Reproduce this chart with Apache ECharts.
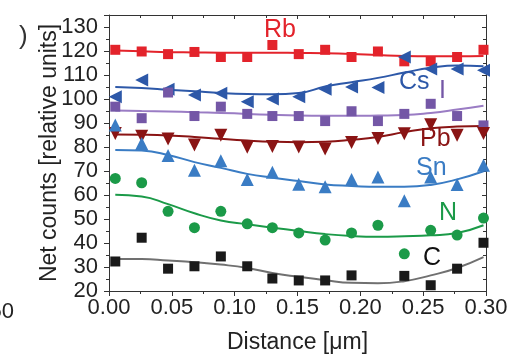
<!DOCTYPE html>
<html><head><meta charset="utf-8">
<script src="https://cdn.jsdelivr.net/npm/echarts@6/dist/echarts.min.js"></script>
<style>html,body{margin:0;padding:0;background:#fff}#c{width:511px;height:359px}</style>
</head><body><div id="c"></div>
<script>
// Distance positions [µm]
const distance = [0.005, 0.026, 0.047, 0.068, 0.089, 0.110, 0.130, 0.151, 0.172, 0.193, 0.214, 0.235, 0.256, 0.277, 0.298];

// Measured points
const rbPts = [120.5, 119.8, 118.7, 119.6, 117.5, 117.5, 122.5, 118.7, 120.5, 117.5, 119.8, 115.7, 115.7, 117.5, 120.5];
const csPts = [100.9, 107.9, 104.1, 101.7, 102.4, 98.9, 100.0, 100.9, 104.1, 105.0, 104.8, 117.5, 112.5, 112.5, 112.0];
const iPts  = [96.8, 92.0, 102.7, 92.9, 96.8, 93.8, 92.9, 92.9, 90.8, 94.9, 90.8, 93.8, 98.0, 92.9, 89.0];
const pbPts = [85.6, 84.5, 83.3, 80.8, 84.9, 79.9, 80.2, 80.0, 79.2, 81.9, 83.5, 85.5, 89.3, 84.9, 85.6];
const snPts = [89.2, 81.5, 76.5, 70.3, 74.3, 66.5, 69.5, 64.5, 63.4, 66.5, 67.5, 57.6, 67.5, 64.4, 72.4];
const nPts  = [66.9, 65.1, 53.2, 46.4, 53.2, 48.0, 46.4, 44.2, 41.2, 44.2, 47.4, 35.5, 45.3, 43.3, 50.4];
const cPts  = [32.3, 42.2, 29.3, 30.3, 34.4, 30.3, 25.2, 24.4, 24.4, 26.5, null, 26.3, 22.4, 29.3, 40.1];

// Fitted (smoothed) curves
const rbFit = [120.2, 119.9, 119.5, 119.4, 119.3, 119.3, 119.3, 119.2, 119.1, 118.8, 118.3, 117.9, 117.8, 117.8, 117.9];
const csFit = [105.0, 104.6, 103.9, 103.2, 102.5, 102.1, 102.0, 102.5, 105.2, 107.0, 108.8, 111.0, 113.0, 114.0, 113.6];
const iFit  = [95.2, 95.0, 94.8, 94.5, 94.2, 93.8, 93.4, 93.1, 93.0, 93.0, 93.1, 93.3, 94.2, 95.6, 97.2];
const pbFit = [85.2, 85.1, 84.8, 84.2, 83.4, 82.7, 82.2, 82.0, 82.2, 83.0, 84.2, 86.2, 87.8, 88.5, 88.8];
const snFit = [78.8, 78.5, 76.7, 73.7, 71.3, 68.8, 67.2, 65.8, 64.4, 63.8, 63.4, 63.4, 64.2, 66.5, 69.9];
const nFit  = [60.1, 59.4, 56.2, 52.4, 49.4, 47.8, 46.4, 45.0, 43.7, 42.9, 42.6, 42.8, 43.2, 44.2, 47.4];
const cFit  = [33.3, 33.3, 32.7, 32.0, 31.0, 29.6, 27.5, 25.9, 24.5, 23.4, 23.2, 24.1, 26.5, 29.6, 34.1];

const xTicks = [0.00, 0.05, 0.10, 0.15, 0.20, 0.25, 0.30];
const yTicks = [20, 30, 40, 50, 60, 70, 80, 90, 100, 110, 120, 130];

const FONT = 'Liberation Sans, Arial, sans-serif';
const pairs = a => a.map((v, i) => [distance[i], v]);

const elements = [
  {name:'Rb', pts:rbPts, fit:rbFit, mc:'#e3232b', lc:'#e3232b', sym:'rect', size:10, rot:0},
  {name:'Cs', pts:csPts, fit:csFit, mc:'#2d58a8', lc:'#2d58a8', sym:'triangle', size:13, rot:90},
  {name:'I',  pts:iPts,  fit:iFit,  mc:'#7457a6', lc:'#9a7cc4', sym:'rect', size:10, rot:0},
  {name:'Pb', pts:pbPts, fit:pbFit, mc:'#8a1414', lc:'#8a1414', sym:'triangle', size:13, rot:180},
  {name:'Sn', pts:snPts, fit:snFit, mc:'#3a7cc4', lc:'#3a7cc4', sym:'triangle', size:13, rot:0},
  {name:'N',  pts:nPts,  fit:nFit,  mc:'#1b9a48', lc:'#1b9a48', sym:'circle', size:11, rot:0},
  {name:'C',  pts:cPts,  fit:cFit,  mc:'#1a1a1a', lc:'#707070', sym:'rect', size:10, rot:0}
];

const series = [];
elements.forEach(e => {
  series.push({type:'line', name:e.name+' fit', data:pairs(e.fit), smooth:0.5, showSymbol:false,
    lineStyle:{color:e.lc, width:2}, z:2, silent:true});
});
elements.forEach(e => {
  series.push({type:'scatter', name:e.name, data:pairs(e.pts).filter(p => p[1] !== null), symbol:e.sym,
    symbolSize:e.size, symbolRotate:e.rot, itemStyle:{color:e.mc, opacity:1}, z:3});
});

const labels = [
  {t:'Rb', x:264, y:32, c:'#e3232b'},
  {t:'Cs', x:399, y:84, c:'#2d58a8'},
  {t:'I',  x:439, y:93, c:'#7457a6'},
  {t:'Pb', x:420, y:141, c:'#8a1414'},
  {t:'Sn', x:416, y:170, c:'#3a7cc4'},
  {t:'N',  x:439, y:215, c:'#1b9a48'},
  {t:'C',  x:423, y:260, c:'#111111'}
];

const axisCol = '#333';
const chart = echarts.init(document.getElementById('c'), null, {renderer:'canvas'});
chart.setOption({
  animation:false,
  backgroundColor:'#fff',
  grid:{left:109, right:25, top:15, bottom:64, containLabel:false},
  xAxis:[{
    type:'value', min:0, max:0.30, interval:0.05, position:'bottom',
    name:'Distance [\u03bcm]', nameLocation:'middle', nameGap:40, nameMoveOverlap:false,
    nameTextStyle:{fontFamily:FONT, fontSize:23, color:'#222'},
    axisLine:{show:true, onZero:false, lineStyle:{color:axisCol, width:1}},
    axisTick:{show:true, inside:false, length:5, lineStyle:{color:axisCol}},
    minorTick:{show:true, splitNumber:2, length:3, lineStyle:{color:axisCol}},
    splitLine:{show:false},
    axisLabel:{fontFamily:FONT, fontSize:22, color:'#222', margin:6,
      formatter: v => { const m = xTicks.find(t => Math.abs(t - v) < 1e-9); return m === undefined ? '' : m.toFixed(2); }}
  },{
    type:'value', min:0, max:0.30, interval:0.05, position:'top',
    axisLine:{show:true, onZero:false, lineStyle:{color:axisCol, width:1}},
    axisTick:{show:true, inside:true, length:4, lineStyle:{color:axisCol}},
    minorTick:{show:true, splitNumber:2, length:3, lineStyle:{color:axisCol}},
    splitLine:{show:false}, axisLabel:{show:false}
  }],
  yAxis:[{
    type:'value', min:20, max:135, interval:10, position:'left',
    name:'Net counts [relative units]', nameLocation:'middle', nameGap:48, nameMoveOverlap:false,
    nameTextStyle:{fontFamily:FONT, fontSize:23, color:'#222'},
    axisLine:{show:true, onZero:false, lineStyle:{color:axisCol, width:1}},
    axisTick:{show:true, inside:false, length:5, lineStyle:{color:axisCol}},
    minorTick:{show:true, splitNumber:2, length:3, lineStyle:{color:axisCol}},
    splitLine:{show:false},
    axisLabel:{fontFamily:FONT, fontSize:22, color:'#222', margin:11, showMaxLabel:false,
      formatter: v => yTicks.indexOf(v) >= 0 ? String(v) : ''}
  },{
    type:'value', min:20, max:135, interval:10, position:'right',
    axisLine:{show:true, onZero:false, lineStyle:{color:axisCol, width:1}},
    axisTick:{show:true, inside:true, length:4, lineStyle:{color:axisCol}},
    minorTick:{show:true, splitNumber:2, length:3, lineStyle:{color:axisCol}},
    splitLine:{show:false}, axisLabel:{show:false}
  }],
  graphic: labels.map(l => ({type:'text', left:l.x, top:l.y - 14, z:10,
    style:{text:l.t, fill:l.c, font:'25px ' + FONT}})).concat([
    {type:'text', left:19, top:24, style:{text:')', fill:'#333', font:'26px ' + FONT}},
    {type:'text', right:497, top:301, style:{text:'50', fill:'#222', font:'22px ' + FONT}}
  ]),
  series: series
});
</script>
</body></html>
